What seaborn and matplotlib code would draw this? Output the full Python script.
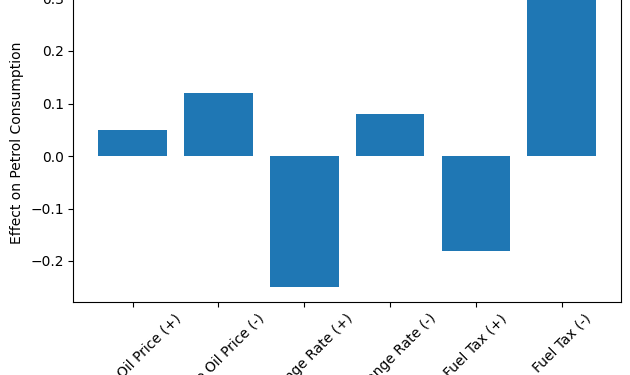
import matplotlib
matplotlib.use("Agg")
import matplotlib.pyplot as plt
import pandas as pd
import seaborn as sns

# Scenario effects on petrol consumption
scenarios = ["Crude Oil Price (+)", "Crude Oil Price (-)", "Exchange Rate (+)",
             "Exchange Rate (-)", "Fuel Tax (+)", "Fuel Tax (-)"]
effects = [0.05, 0.12, -0.25, 0.08, -0.18, 0.30]

df = pd.DataFrame({"scenario": scenarios, "effect": effects})

plt.rcParams["font.family"] = ["DejaVu Sans"]
fig = plt.figure(figsize=(6.3, 3.75), dpi=100)
# the axes runs slightly past the top edge, as in the reference
ax = fig.add_axes([0.1165, 0.1955, 0.869, 0.847])

sns.barplot(data=df, x="scenario", y="effect", color="#1f77b4",
            saturation=1, width=0.8, ax=ax)
ax.set_xlim(-0.69, 5.69)
ax.set_ylim(-0.2775, 0.3275)
ax.set_xlabel("")
ax.set_ylabel("Effect on Petrol Consumption")
ax.tick_params(axis="x", rotation=45)

fig.savefig("out.png", dpi=100)
